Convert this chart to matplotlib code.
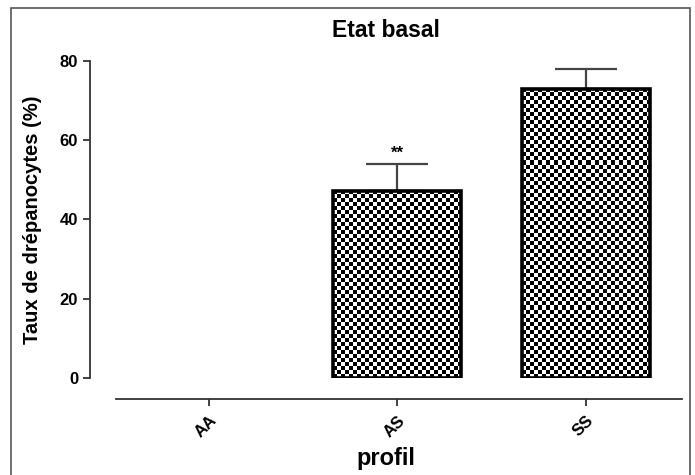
import numpy as np
import matplotlib
matplotlib.use("Agg")
import matplotlib.pyplot as plt
from matplotlib.patches import Rectangle

plt.rcParams['font.family'] = ['Liberation Sans', 'DejaVu Sans']
plt.rcParams['font.weight'] = 'bold'

# data
profiles = ['AA', 'AS', 'SS']
means = [np.nan, 47.2, 73.0]
err_up = [np.nan, 6.7, 5.0]
stars = ['', '**', '']

W, H = 695, 475
fig = plt.figure(figsize=(W / 100, H / 100), dpi=100)
ax = fig.add_axes([90 / W, (H - 378) / H, (682 - 90) / W, (378 - 61) / H])

# gray frame round the figure
fig.patches.append(Rectangle((11 / W, -0.01), (690 - 11) / W, (H - 8) / H + 0.01,
                             transform=fig.transFigure, fill=False,
                             edgecolor='#555555', linewidth=1.2))

x = np.arange(len(profiles))
width = 0.68
xlim = (-0.63, 2.51)
ylim = (0, 80)

has = ~np.isnan(means)
bars = ax.bar(x[has], np.array(means)[has], width, facecolor='white',
              edgecolor='black', linewidth=2.6, zorder=3)
ax.errorbar(x[has], np.array(means)[has],
            yerr=[np.zeros(has.sum()), np.array(err_up)[has]],
            fmt='none', ecolor='#444444', elinewidth=1.6, capsize=22, capthick=1.6,
            zorder=2, clip_on=False)

ax.set_xlim(*xlim)
ax.set_ylim(*ylim)

# checkerboard fill, about 4 px per square
cell = 4
for b, i in zip(bars, x[has]):
    x0, y0 = b.get_x(), 0
    x1, y1 = x0 + b.get_width(), b.get_height()
    p0 = ax.transData.transform((x0, y0))
    p1 = ax.transData.transform((x1, y1))
    nc = max(int(round((p1[0] - p0[0]) / cell)), 1)
    nr = max(int(round((p1[1] - p0[1]) / cell)), 1)
    board = (np.add.outer(np.arange(nr), np.arange(nc)) % 2).astype(float)
    im = ax.imshow(board, extent=[x0, x1, y0, y1], cmap='gray', vmin=0, vmax=1,
                   interpolation='nearest', aspect='auto', zorder=2.5)
    im.set_clip_path(b)
    b.set_facecolor('none')
    if stars[i]:
        ax.text(x[i], means[i] + err_up[i] + 0.8, stars[i], ha='center', va='bottom',
                fontsize=12, fontweight='bold')

ax.set_xlim(*xlim)
ax.set_ylim(*ylim)

ax.spines['top'].set_visible(False)
ax.spines['right'].set_visible(False)
ax.spines['left'].set_bounds(0, 80)
ax.spines['left'].set_linewidth(1.3)
ax.spines['bottom'].set_position(('outward', 15))
ax.spines['bottom'].set_bounds(-0.49, 2.51)
ax.spines['bottom'].set_linewidth(1.3)
ax.spines['left'].set_color('#333333')
ax.spines['bottom'].set_color('#333333')

ax.set_yticks([0, 20, 40, 60, 80])
ax.set_xticks(x)
ax.set_xticklabels(profiles, rotation=45, ha='right', rotation_mode='anchor')
ax.tick_params(axis='both', labelsize=12, length=5, width=1.3, color='#333333')
ax.tick_params(axis='x', pad=5)
for lab in ax.get_xticklabels() + ax.get_yticklabels():
    lab.set_fontweight('bold')

ax.set_ylabel('Taux de drépanocytes (%)', fontsize=14.5, fontweight='bold', labelpad=13)
ax.set_xlabel('profil', fontsize=17, fontweight='bold', labelpad=5)
ax.set_title('Etat basal', fontsize=16.5, fontweight='bold', pad=17)

fig.savefig('out.png', dpi=100)
